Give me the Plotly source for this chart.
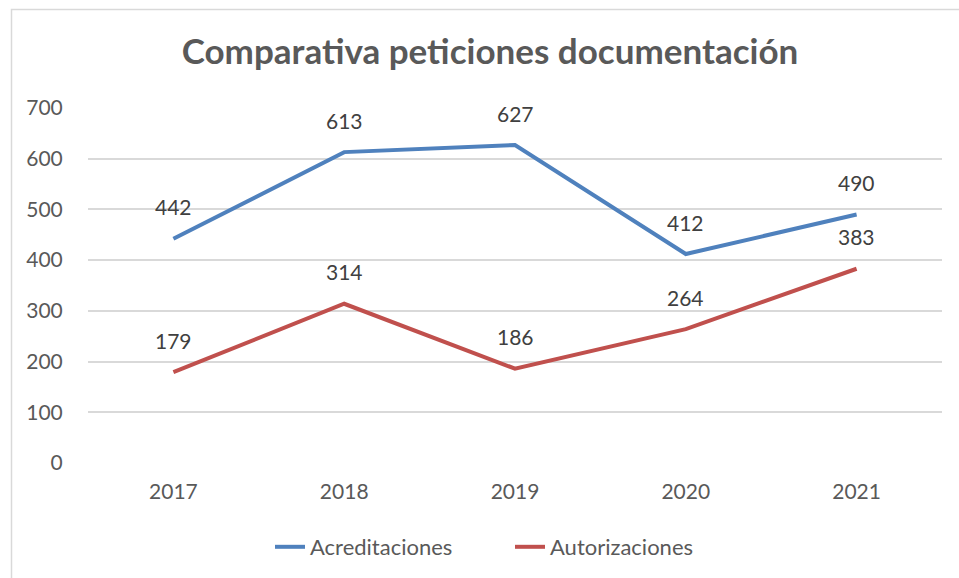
import plotly.graph_objs as go

years = ["2017", "2018", "2019", "2020", "2021"]
acreditaciones = [442, 613, 627, 412, 490]
autorizaciones = [179, 314, 186, 264, 383]

BLUE = "#4F81BD"
RED = "#C0504D"
FONT = "Lato, Open Sans, sans-serif"

fig = go.Figure()


def add_series(fig, y, name, color):
    fig.add_trace(
        go.Scatter(
            x=years,
            y=y,
            mode="lines",
            name=name,
            line=dict(color=color, width=4),
        )
    )
    # data labels above each point (category axis -> use index)
    for i, yv in enumerate(y):
        fig.add_annotation(
            x=i, y=yv, xref="x", yref="y",
            text=str(yv), showarrow=False, yshift=32,
            font=dict(size=21, color="#404040", family=FONT),
        )


add_series(fig, acreditaciones, "Acreditaciones", BLUE)
add_series(fig, autorizaciones, "Autorizaciones", RED)

# plot area in pixels
L, R, T, B = 88, 17, 108, 115
W, H = 959 - L - R, 578 - T - B

# light outer border of the chart (only left/top visible in reference)
fig.add_shape(
    type="rect", xref="paper", yref="paper",
    x0=(11.5 - L) / W, x1=(975 - L) / W,
    y0=-(590 - (T + H)) / H, y1=(T + H - 9.5) / H,
    line=dict(color="#D9D9D9", width=1.5), fillcolor="rgba(0,0,0,0)",
    layer="below",
)

fig.update_layout(
    width=959,
    height=578,
    margin=dict(l=L, r=R, t=T, b=B, autoexpand=False),
    paper_bgcolor="white",
    plot_bgcolor="white",
    title=dict(
        text="<b>Comparativa peticiones documentación</b>",
        x=490 / 959, xanchor="center", xref="container",
        y=(578 - 52) / 578, yanchor="middle",
        font=dict(size=35, color="#595959", family=FONT),
    ),
    xaxis=dict(
        type="category",
        range=[-0.5, 4.5],
        showgrid=False, zeroline=False, showline=False,
        tickfont=dict(size=21, color="#595959", family=FONT),
        ticks="outside", ticklen=10, tickcolor="rgba(0,0,0,0)",
    ),
    yaxis=dict(
        range=[0, 700], dtick=100,
        showgrid=True, gridcolor="#D9D9D9", gridwidth=1.5,
        zeroline=False, showline=False,
        tickfont=dict(size=21, color="#595959", family=FONT),
        ticks="outside", ticklen=20, tickcolor="rgba(0,0,0,0)",
    ),
    legend=dict(
        orientation="h", xref="paper", x=(510 - L) / W, xanchor="center",
        y=-(547 - (T + H)) / H, yanchor="middle",
        font=dict(size=22, color="#595959", family=FONT),
        entrywidth=195,
    ),
    showlegend=True,
)

fig.write_html(
    "out.html",
    config={"displayModeBar": False},
    post_script="document.body.style.margin='0';",
)
